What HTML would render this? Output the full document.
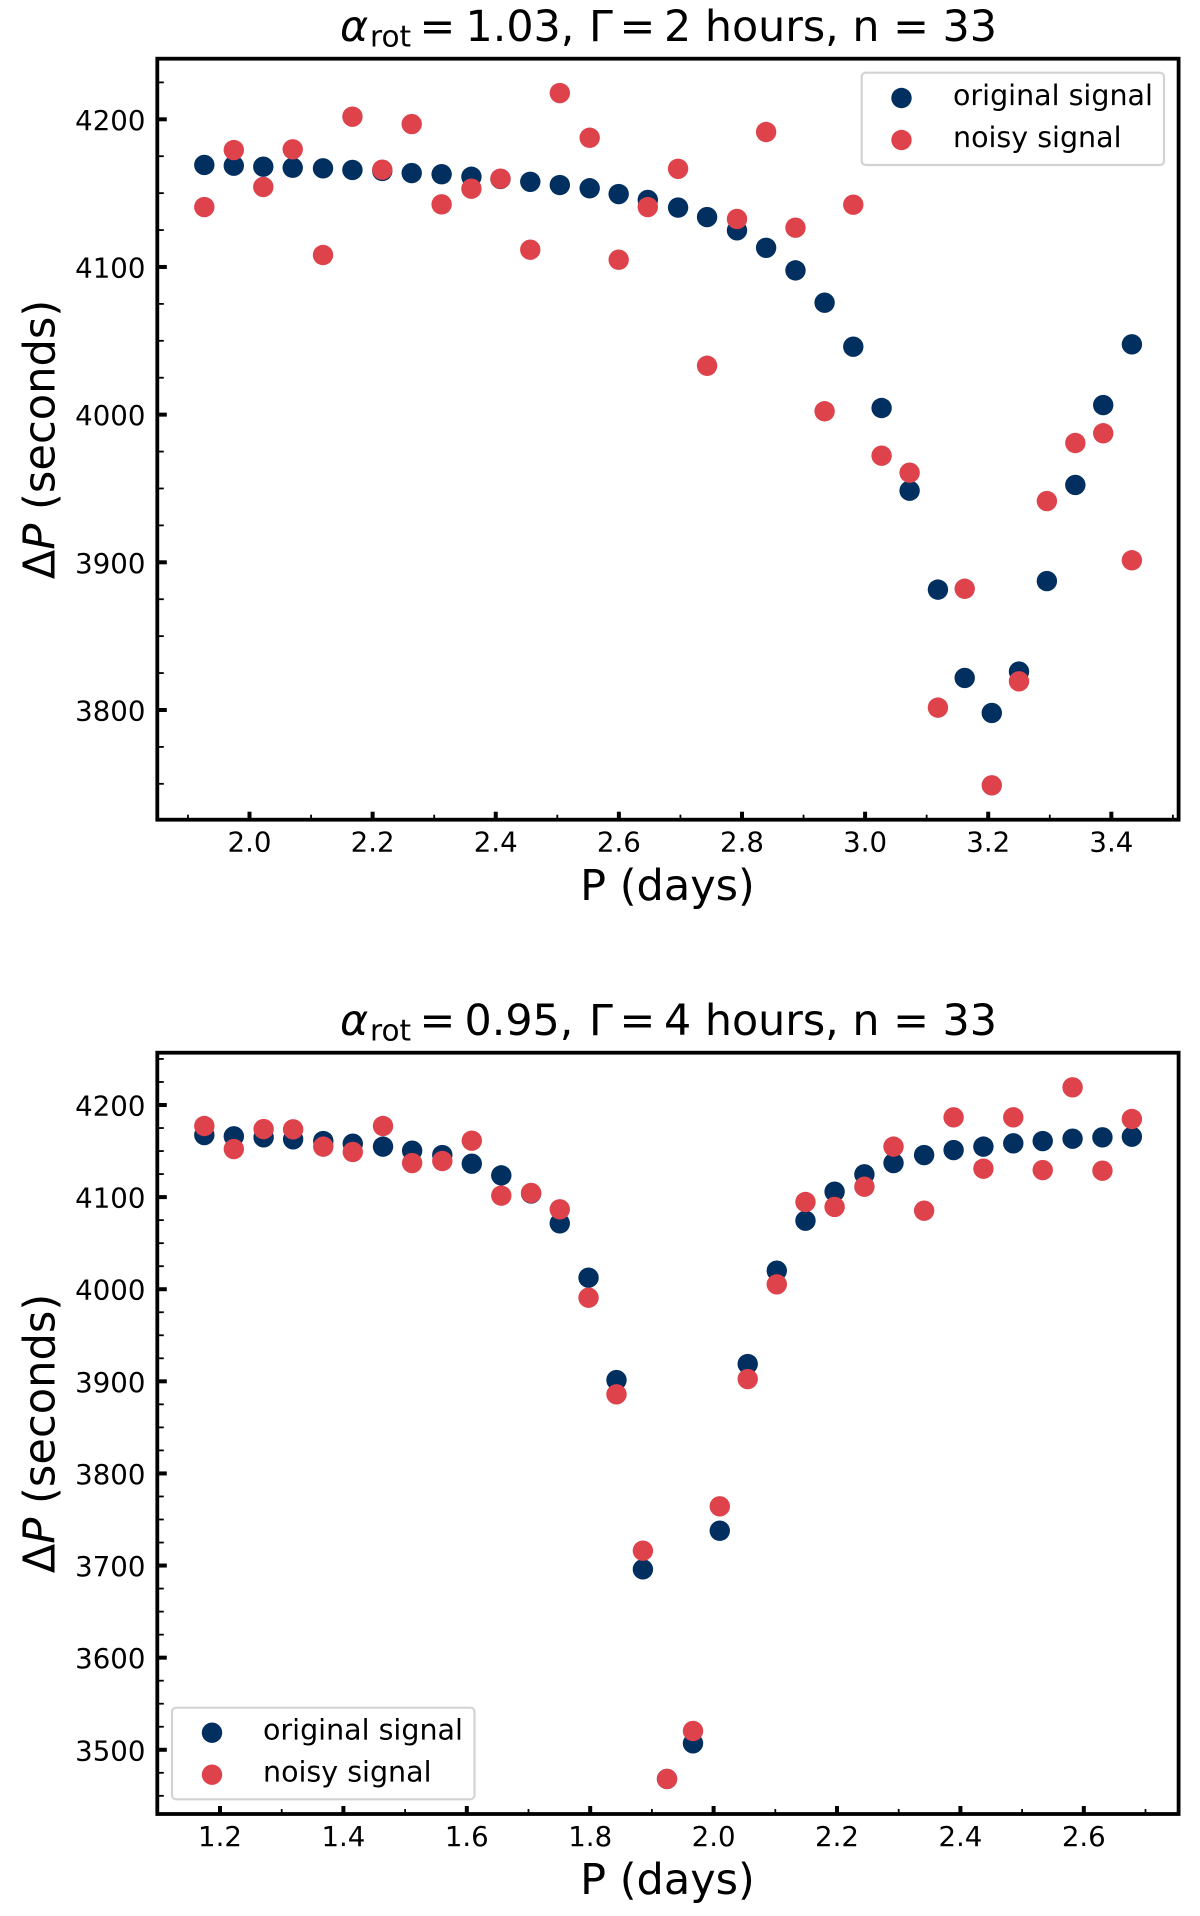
<!DOCTYPE html>
<html lang="en">
<head>
<meta charset="utf-8">
<title>Delta P versus P for two rotation models</title>
<style>
html,body{margin:0;padding:0;background:#fff;}
svg{display:block;}
text{font-family:"DejaVu Sans","Liberation Sans",sans-serif;fill:#000;}
</style>
</head>
<body>
<svg id="figure" xmlns="http://www.w3.org/2000/svg" width="1200" height="1916" viewBox="0 0 1200 1916">
  <rect x="0" y="0" width="1200" height="1916" fill="#fff"/>

  <g id="panel-top"></g>
  <text y="41" font-size="42.8"><tspan x="340" font-style="italic">α</tspan><tspan x="370" y="46.5" font-size="29.5">rot</tspan><tspan x="419.5" y="41">=</tspan><tspan x="465.5">1.03,</tspan><tspan x="589">Γ</tspan><tspan x="619.5">=</tspan><tspan x="664">2 hours, n = 33</tspan></text>
  <text x="667.5" y="900" font-size="43" text-anchor="middle">P (days)</text>
  <text transform="translate(54.7 439.5) rotate(-90)" font-size="43.2" text-anchor="middle">Δ<tspan font-style="italic">P</tspan> (seconds)</text>

  <g id="panel-bottom"></g>
  <text y="1035" font-size="42.8"><tspan x="340" font-style="italic">α</tspan><tspan x="370" y="1040.5" font-size="29.5">rot</tspan><tspan x="419.5" y="1035">=</tspan><tspan x="464.5">0.95,</tspan><tspan x="589">Γ</tspan><tspan x="619.5">=</tspan><tspan x="664">4 hours, n = 33</tspan></text>
  <text x="667.5" y="1894" font-size="43" text-anchor="middle">P (days)</text>
  <text transform="translate(54.7 1433.5) rotate(-90)" font-size="43.2" text-anchor="middle">Δ<tspan font-style="italic">P</tspan> (seconds)</text>
</svg>

<script>
// ---- chart data: top panel ----
const topPeriods = [1.9266,1.9745,2.0224,2.0702,2.1194,2.1672,2.2157,2.2635,2.3121,2.3605,2.4077,2.4561,2.5041,2.5526,2.5997,2.647,2.6962,2.7433,2.7919,2.8392,2.8869,2.9342,2.9808,3.0268,3.0723,3.1183,3.1618,3.2058,3.25,3.2953,3.3415,3.3868,3.4334];
const topOriginal = [4169.1,4168.6,4167.9,4167.2,4166.8,4165.7,4165,4163.6,4162.8,4161.1,4159.6,4157.7,4155.5,4153.3,4149.4,4145.4,4140.2,4133.8,4124.8,4113,4097.7,4075.8,4046,4004.5,3948.5,3881.5,3821.7,3798,3826,3887.3,3952.4,4006.5,4047.6];
const topNoisy = [4140.6,4179.2,4154.2,4179.7,4108.1,4201.8,4165.9,4196.8,4142.4,4153,4159.8,4111.7,4217.8,4187.5,4104.9,4140.6,4166.5,4033.1,4132.5,4191.4,4126.6,4002.3,4142.2,3972.2,3960.7,3801.6,3882.1,3749,3819.4,3941.5,3980.8,3987.4,3901.4];
const topXTicks = ["2.0","2.2","2.4","2.6","2.8","3.0","3.2","3.4"];
const topXMinor = [1.9,2.1,2.3,2.5,2.7,2.9,3.1,3.3,3.5];
const topYTicks = ["3800","3900","4000","4100","4200"];
const topYMinor = [3750,3775,3825,3850,3875,3925,3950,3975,4025,4050,4075,4125,4150,4175,4225];

// ---- chart data: bottom panel ----
const bottomPeriods = [1.1746,1.2224,1.2707,1.3185,1.3674,1.4152,1.4642,1.5114,1.5603,1.6081,1.6559,1.7042,1.7507,1.7973,1.8426,1.8854,1.9245,1.9666,2.01,2.0553,2.1024,2.1489,2.1961,2.2444,2.2916,2.3412,2.389,2.4373,2.4857,2.5334,2.5818,2.6302,2.6779];
const bottomOriginal = [4167.4,4166,4164.9,4162.8,4160.9,4158,4154.8,4150.4,4145.7,4136.3,4123.6,4104,4071.5,4012.5,3901.4,3695.9,3468.3,3507,3737.8,3918.8,4020.1,4074.4,4105.9,4124.7,4137,4145.7,4151.1,4154.8,4158.4,4160.9,4163.4,4164.9,4165.6];
const bottomNoisy = [4177.2,4152.2,4173.9,4173.6,4154.8,4149,4177.2,4137,4139.2,4161.3,4101.6,4104.5,4086.7,3990.8,3885.9,3716.1,3468.3,3520.4,3764.3,3902.5,4005.3,4094.7,4089.3,4111.3,4154.8,4085.3,4186.6,4130.9,4186.6,4129.4,4219.2,4128.7,4184.8];
const bottomXTicks = ["1.2","1.4","1.6","1.8","2.0","2.2","2.4","2.6"];
const bottomXMinor = [1.3,1.5,1.7,1.9,2.1,2.3,2.5,2.7];
const bottomYTicks = ["3500","3600","3700","3800","3900","4000","4100","4200"];
const bottomYMinor = [3450,3475,3525,3550,3575,3625,3650,3675,3725,3750,3775,3825,3850,3875,3925,3950,3975,4025,4050,4075,4125,4150,4175,4225,4250];

const legendLabels = ["original signal","noisy signal"];

const NS = "http://www.w3.org/2000/svg";
const NAVY = "#012f60";
const RED = "#de424b";

function make(parent, tag, attrs) {
  const el = document.createElementNS(NS, tag);
  for (const k in attrs) el.setAttribute(k, attrs[k]);
  parent.appendChild(el);
  return el;
}

function drawPanel(root, prefix, box, xAxis, yAxis, periods, original, noisy, xTicks, xMinor, yTicks, yMinor, legend) {
  const xPos = function (v) { return xAxis.px0 + (v - xAxis.v0) * xAxis.scale; };
  const yPos = function (v) { return yAxis.px0 + (yAxis.v0 - v) * yAxis.scale; };

  original.forEach(function (v, i) {
    const c = make(root, "circle", {cx: xPos(periods[i]), cy: yPos(v), r: 10.2, fill: NAVY});
    
    
  });
  noisy.forEach(function (v, i) {
    const c = make(root, "circle", {cx: xPos(periods[i]), cy: yPos(v), r: 10.2, fill: RED});
    
    
  });

  xMinor.forEach(function (v) {
    const t = make(root, "line", {x1: xPos(v), x2: xPos(v), y1: box.bottom, y2: box.bottom - 5, stroke: "#000", "stroke-width": 1.8});
    
    
  });
  yMinor.forEach(function (v) {
    const t = make(root, "line", {x1: box.left, x2: box.left + 6.5, y1: yPos(v), y2: yPos(v), stroke: "#000", "stroke-width": 1.8});
    
    
  });
  xTicks.forEach(function (label) {
    const v = parseFloat(label);
    const t = make(root, "line", {x1: xPos(v), x2: xPos(v), y1: box.bottom, y2: box.bottom - 8, stroke: "#000", "stroke-width": 4});
    
    
    const s = make(root, "text", {x: xPos(v), y: box.bottom + 32, "font-size": 27.6, "text-anchor": "middle"});
    
    
    s.textContent = label;
  });
  yTicks.forEach(function (label) {
    const v = parseFloat(label);
    const t = make(root, "line", {x1: box.left, x2: box.left + 9.5, y1: yPos(v), y2: yPos(v), stroke: "#000", "stroke-width": 4});
    
    
    const s = make(root, "text", {x: 145.4, y: yPos(v) + 10.5, "font-size": 27.6, "text-anchor": "end"});
    
    
    s.textContent = label;
  });

  const frame = make(root, "rect", {x: box.left, y: box.top, width: box.right - box.left, height: box.bottom - box.top, fill: "none", stroke: "#000", "stroke-width": 3.8});
  
  

  const lg = make(root, "g", {});
  
  
  const lgBox = make(lg, "rect", {x: legend.x, y: legend.y, width: legend.w, height: legend.h, rx: 4, ry: 4, fill: "#fff", stroke: "#d3d3d3", "stroke-width": 2.2});
  
  

  const m0 = make(lg, "circle", {cx: legend.markerX, cy: legend.row0, r: 10.2, fill: NAVY});
  
  
  const t0 = make(lg, "text", {x: legend.textX, y: legend.row0 + 7, "font-size": 28.5});
  
  
  t0.textContent = legendLabels[0];

  const m1 = make(lg, "circle", {cx: legend.markerX, cy: legend.row1, r: 10.2, fill: RED});
  
  
  const t1 = make(lg, "text", {x: legend.textX, y: legend.row1 + 7, "font-size": 28.5});
  
  
  t1.textContent = legendLabels[1];
}

drawPanel(
  document.getElementById("panel-top"), "top",
  {left: 157.3, right: 1178.6, top: 58.7, bottom: 819.7},
  {px0: 249.5, v0: 2.0, scale: 615.6},
  {px0: 119.3, v0: 4200, scale: 1.4767},
  topPeriods, topOriginal, topNoisy, topXTicks, topXMinor, topYTicks, topYMinor,
  {x: 861.7, y: 72.7, w: 302.3, h: 92.3, markerX: 901.5, row0: 98, row1: 140, textX: 953}
);

drawPanel(
  document.getElementById("panel-bottom"), "bottom",
  {left: 157.3, right: 1178.6, top: 1052.7, bottom: 1814},
  {px0: 220, v0: 1.2, scale: 617},
  {px0: 1105, v0: 4200, scale: 0.9211},
  bottomPeriods, bottomOriginal, bottomNoisy, bottomXTicks, bottomXMinor, bottomYTicks, bottomYMinor,
  {x: 172, y: 1707.7, w: 302.5, h: 91.6, markerX: 212, row0: 1732.7, row1: 1774.7, textX: 263}
);
</script>
</body>
</html>
